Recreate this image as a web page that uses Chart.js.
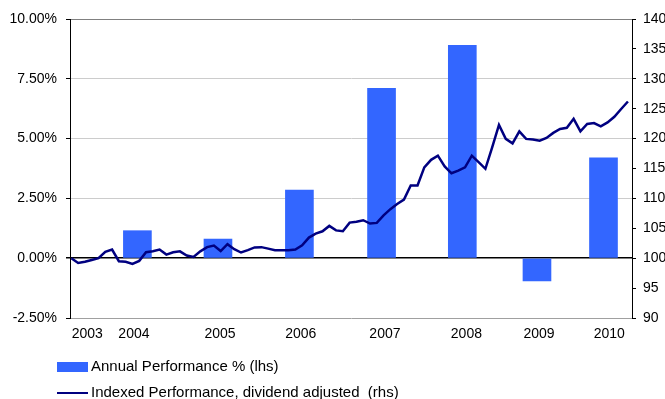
<!DOCTYPE html>
<html>
<head>
<meta charset="utf-8">
<script src="https://cdn.jsdelivr.net/npm/chart.js@4/dist/chart.umd.min.js"></script>
<style>
  body { margin: 0; background: #fff; }
  #wrap { width: 665px; height: 399px; position: relative; }
</style>
</head>
<body>
<div id="wrap"><canvas id="perfChart"></canvas></div>
<script>
// monthly index level (rhs), dividend adjusted, starting at 100
const indexValues = [
  100.0, 99.2, 99.4, 99.7, 100.0, 101.05, 101.45, 99.5, 99.4, 99.05,
  99.55, 101.0, 101.15, 101.45, 100.6, 101.0, 101.15, 100.45, 100.2, 101.15,
  101.85, 102.1, 101.2, 102.35, 101.5, 100.95, 101.35, 101.8, 101.85, 101.6,
  101.35, 101.35, 101.35, 101.45, 102.15, 103.45, 104.1, 104.5, 105.4, 104.65,
  104.5, 105.95, 106.1, 106.35, 105.8, 105.9, 107.15, 108.2, 109.05, 109.8,
  112.15, 112.15, 115.2, 116.45, 117.15, 115.35, 114.2, 114.65, 115.2, 117.15,
  116.05, 114.95, 118.55, 122.3, 119.95, 119.2, 121.2, 119.95, 119.85, 119.65,
  120.1, 120.95, 121.6, 121.8, 123.3, 121.2, 122.45, 122.6, 122.05, 122.7,
  123.65, 124.95, 126.2
];

// annual performance bars (lhs), placed at month index on the same axis
const annualYears = ['2004', '2005', '2006', '2007', '2008', '2009', '2010'];
const annualPerf = [1.15, 0.8, 2.85, 7.1, 8.9, -0.95, 4.2];
const annualMonth = [9.73, 21.6, 33.6, 45.7, 57.6, 68.6, 78.4];

// year tick labels on the x axis
const yearLabels = ['2003', '2004', '2005', '2006', '2007', '2008', '2009', '2010'];
const yearLabelMonth = [2.34, 9.22, 21.9, 33.8, 46.2, 58.2, 68.9, 79.25];

const BAR_COLOR = '#3366ff';
const LINE_COLOR = '#000080';

Chart.defaults.font.family = "'Liberation Sans', Arial, sans-serif";
Chart.defaults.font.size = 14;
Chart.defaults.color = '#000';

// legend stacked in two rows under the axis, like the original
const stackedLegend = {
  id: 'stackedLegend',
  afterDraw(chart) {
    const ctx = chart.ctx;
    const ds = chart.data.datasets;
    const x0 = 57, y0 = 367, rowH = 26;
    ctx.save();
    ctx.font = "15px 'Liberation Sans', Arial, sans-serif";
    ctx.textBaseline = 'middle';
    // bar item
    ctx.fillStyle = ds[1].backgroundColor;
    ctx.fillRect(x0, y0 - 5, 31, 10);
    ctx.fillStyle = '#000';
    ctx.fillText(ds[1].label, x0 + 34, y0);
    // line item
    ctx.strokeStyle = ds[0].borderColor;
    ctx.lineWidth = 2;
    ctx.beginPath();
    ctx.moveTo(x0, y0 + rowH);
    ctx.lineTo(x0 + 31, y0 + rowH);
    ctx.stroke();
    ctx.fillText(ds[0].label, x0 + 34, y0 + rowH);
    ctx.restore();
  }
};

const ctx = document.getElementById('perfChart').getContext('2d');
const perfChart = new Chart(ctx, {
  type: 'bar',
  data: {
    datasets: [
      {
        type: 'line',
        label: 'Indexed Performance, dividend adjusted  (rhs)',
        data: indexValues.map((v, i) => ({ x: i, y: v })),
        yAxisID: 'y2',
        borderColor: LINE_COLOR,
        borderWidth: 2.5,
        pointRadius: 0,
        tension: 0,
        order: 0
      },
      {
        type: 'bar',
        label: 'Annual Performance % (lhs)',
        data: annualPerf.map((v, i) => ({ x: annualMonth[i], y: v })),
        yAxisID: 'y',
        backgroundColor: BAR_COLOR,
        barThickness: 28,
        order: 1
      }
    ]
  },
  options: {
    responsive: true,
    maintainAspectRatio: false,
    animation: false,
    layout: { padding: { top: 19, left: 0, right: 0, bottom: 0 } },
    plugins: {
      legend: { display: false },
      tooltip: { enabled: false }
    },
    scales: {
      x: {
        type: 'linear',
        min: -0.2,
        max: 82.6,
        offset: false,
        grid: { display: false, drawTicks: false },
        border: { display: false },
        afterFit: s => { s.height = 81; },
        afterBuildTicks: axis => {
          axis.ticks = yearLabelMonth.map(v => ({ value: v }));
        },
        ticks: {
          autoSkip: false,
          maxRotation: 0,
          padding: 8,
          callback: (v, i) => yearLabels[i]
        }
      },
      y: {
        position: 'left',
        min: -2.5,
        max: 10,
        afterFit: s => { s.width = 70; },
        ticks: {
          stepSize: 2.5,
          padding: 9,
          callback: v => v.toFixed(2) + '%'
        },
        grid: {
          tickLength: 4,
          tickColor: '#000',
          color: c => {
            const v = c.tick.value;
            if (v === 0) return '#000';
            if (v === 10) return '#808080';
            if (v === -2.5) return '#a0a0a0';
            return '#cccccc';
          },
          lineWidth: c => (c.tick.value === 0 ? 1.5 : 1)
        },
        border: { color: '#000', width: 1 }
      },
      y2: {
        position: 'right',
        min: 90,
        max: 140,
        afterFit: s => { s.width = 33; },
        ticks: { stepSize: 5, padding: 7 },
        grid: { drawOnChartArea: false, tickLength: 4, tickColor: '#000' },
        border: { color: '#000', width: 1 }
      }
    }
  },
  plugins: [stackedLegend]
});
</script>
</body>
</html>
